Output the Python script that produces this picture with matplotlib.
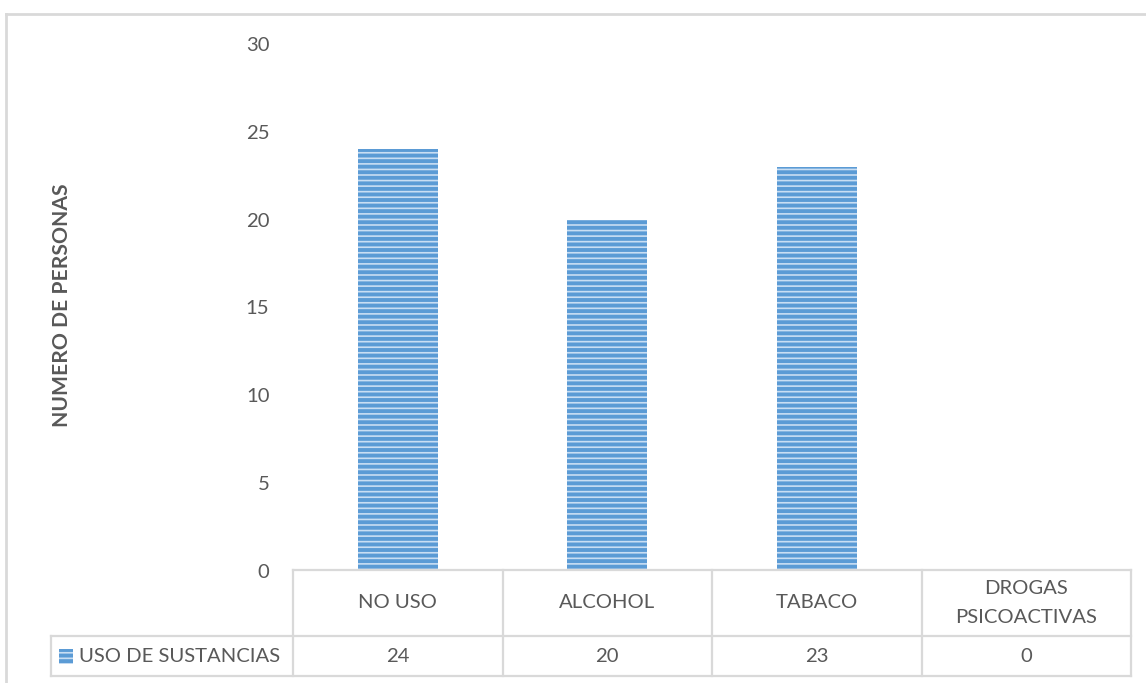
import matplotlib.pyplot as plt
import matplotlib.transforms as mtransforms
from matplotlib.patches import Rectangle

# data
categorias = ["NO USO", "ALCOHOL", "TABACO", "DROGAS\nPSICOACTIVAS"]
valores = [24, 20, 23, 0]
serie = "USO DE SUSTANCIAS"
y_ticks = [0, 5, 10, 15, 20, 25, 30]

W, H = 1146, 683
plt.rcParams['font.family'] = ['Lato', 'DejaVu Sans']
plt.rcParams['hatch.linewidth'] = 1.2
plt.rcParams['hatch.color'] = '#C9DEF3'

gris = '#595959'
linea = '#D9D9D9'
azul = '#5B9BD5'
fs = 14.6

fig = plt.figure(figsize=(W / 100, H / 100), dpi=100)


def fx(x):
    return x / W


def fy(y):
    return 1 - y / H


# plot area in pixels
left, right, top, bottom = 293, 1131, 44, 571
ax = fig.add_axes([fx(left), fy(bottom), fx(right) - fx(left), fy(top) - fy(bottom)])

x = range(len(categorias))
ax.bar(x, valores, width=0.38, color=azul, hatch='---', linewidth=0)
ax.set_xlim(-0.5, len(categorias) - 0.5)
ax.set_ylim(0, 30)
ax.set_yticks(y_ticks)
ax.set_yticklabels([str(t) for t in y_ticks], fontsize=fs, color=gris)
ax.tick_params(axis='y', length=0, pad=17)
ax.set_xticks([])
for s in ax.spines.values():
    s.set_visible(False)

fig.text(fx(62), fy(305), "NUMERO DE PERSONAS", rotation=90, ha='center', va='center',
         fontsize=15.2, fontweight='bold', color=gris)

# data table below the plot
tr = mtransforms.blended_transform_factory(ax.transData, fig.transFigure)
y0, y1, y2 = fy(570), fy(636), fy(676)
lw = 1.6
n = len(categorias)
ax.plot([-0.5, n - 0.5], [y0, y0], transform=tr, color=linea, lw=lw, clip_on=False)
for i in range(n + 1):
    ax.plot([i - 0.5, i - 0.5], [y0, y2], transform=tr, color=linea, lw=lw, clip_on=False)
fig.add_artist(plt.Line2D([fx(51), fx(right)], [y1, y1], color=linea, lw=lw))
fig.add_artist(plt.Line2D([fx(51), fx(right)], [y2, y2], color=linea, lw=lw))
fig.add_artist(plt.Line2D([fx(51), fx(51)], [y1, y2], color=linea, lw=lw))

for i, (c, v) in enumerate(zip(categorias, valores)):
    ax.text(i, (y0 + y1) / 2, c, transform=tr, ha='center', va='center', fontsize=fs,
            color=gris, linespacing=1.85)
    ax.text(i, (y1 + y2) / 2, str(v), transform=tr, ha='center', va='center', fontsize=fs,
            color=gris)

# legend key in the table
fig.add_artist(Rectangle((fx(59), fy(664)), fx(14), fy(649) - fy(664), transform=fig.transFigure,
                         facecolor=azul, hatch='---', linewidth=0))
fig.text(fx(79), (y1 + y2) / 2, serie, ha='left', va='center', fontsize=fs, color=gris)

# chart frame
fig.add_artist(plt.Line2D([fx(6), fx(6)], [fy(14), 0], color=linea, lw=2))
fig.add_artist(plt.Line2D([fx(6), 1], [fy(14), fy(14)], color=linea, lw=2))

fig.savefig("out.png", dpi=100)
